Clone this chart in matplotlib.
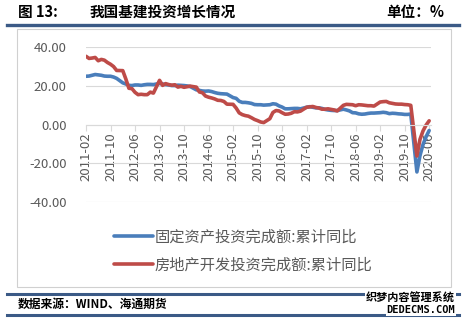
import matplotlib.pyplot as plt
import numpy as np
from matplotlib.lines import Line2D

plt.rcParams['font.family'] = ['Noto Sans CJK SC', 'DejaVu Sans']

# =============================================================================
# data (cumulative YoY, %), monthly, January not published
# =============================================================================
years = list(range(2011, 2021))
fai = {
    2011: [24.9, 25.0, 25.4, 25.8, 25.6, 25.4, 25.0, 24.9, 24.9, 24.5, 23.8],
    2012: [21.5, 20.9, 20.2, 20.1, 20.4, 20.4, 20.2, 20.5, 20.7, 20.7, 20.6],
    2013: [21.2, 20.9, 20.6, 20.4, 20.1, 20.1, 20.3, 20.2, 20.1, 19.9, 19.6],
    2014: [17.9, 17.6, 17.3, 17.2, 17.3, 17.0, 16.5, 16.1, 15.9, 15.8, 15.7],
    2015: [13.9, 13.5, 12.0, 11.4, 11.4, 11.2, 10.9, 10.3, 10.2, 10.2, 10.0],
    2016: [10.2, 10.7, 10.5, 9.6, 9.0, 8.1, 8.1, 8.2, 8.3, 8.3, 8.1],
    2017: [8.9, 9.2, 8.9, 8.6, 8.6, 8.3, 7.8, 7.5, 7.3, 7.2, 7.2],
    2018: [7.9, 7.5, 7.0, 6.1, 6.0, 5.5, 5.3, 5.4, 5.7, 5.9, 5.9],
    2019: [6.1, 6.3, 6.1, 5.6, 5.8, 5.7, 5.5, 5.4, 5.2, 5.2, 5.4],
    2020: [-24.5, -16.1, -10.3, -6.3, -3.1],
}
realestate = {
    2011: [35.2, 34.1, 34.3, 34.6, 32.9, 33.6, 33.2, 32.0, 31.1, 29.9, 27.9],
    2012: [27.8, 23.5, 18.7, 18.5, 16.6, 15.4, 15.6, 15.4, 15.4, 16.7, 16.2],
    2013: [22.8, 20.2, 21.1, 20.6, 20.3, 20.5, 19.3, 19.7, 19.2, 19.5, 19.8],
    2014: [19.3, 16.8, 16.4, 14.7, 14.1, 13.7, 13.2, 12.5, 12.4, 11.9, 10.5],
    2015: [10.4, 8.5, 6.0, 5.1, 4.6, 4.3, 3.5, 2.6, 2.0, 1.3, 1.0],
    2016: [3.0, 6.2, 7.2, 7.0, 6.1, 5.3, 5.4, 5.8, 6.6, 6.5, 6.9],
    2017: [8.9, 9.1, 9.3, 8.8, 8.5, 7.9, 7.9, 8.1, 7.8, 7.5, 7.0],
    2018: [9.9, 10.4, 10.3, 10.2, 9.7, 10.2, 10.1, 9.9, 9.7, 9.7, 9.5],
    2019: [11.6, 11.8, 11.9, 11.2, 10.9, 10.6, 10.5, 10.5, 10.3, 10.2, 9.9],
    2020: [-16.3, -7.7, -3.3, -0.3, 1.9],
}
label_fai = '固定资产投资完成额:累计同比'
label_re = '房地产开发投资完成额:累计同比'
yticks = [-40, -20, 0, 20, 40]

# month index from 2011-02
x_pos = []
fai_vals = []
re_vals = []
for y in years:
    for k, v in enumerate(fai[y]):
        x_pos.append((y - 2011) * 12 + k)  # feb=0 offset
        fai_vals.append(v)
        re_vals.append(realestate[y][k])
x_pos = np.array(x_pos)

tick_pos = np.arange(0, 113, 8)
tick_labels = []
for p in tick_pos:
    m = p + 1  # months after 2011-01
    tick_labels.append('%d-%02d' % (2011 + m // 12, m % 12 + 1))

# =============================================================================
# figure
# =============================================================================
fig = plt.figure(figsize=(4.64, 3.23), dpi=100)
fig.set_facecolor('w')

navy = '#3B5A86'
fig.add_artist(Line2D([7/464, 459/464], [1-25/323]*2, color=navy, lw=2.4))
fig.add_artist(Line2D([7/464, 459/464], [1-294/323]*2, color=navy, lw=2.2))
fig.add_artist(Line2D([7/464, 459/464], [1-315/323]*2, color=navy, lw=2.2))
# chart frame
fig.add_artist(plt.Rectangle((17/464, 1-287/323), 434/464, 258/323,
                             fill=False, ec='#D0D0D0', lw=0.8))

fig.text(18/464, 1-12/323, '图 13:', fontsize=10.5, fontweight='bold', va='center')
fig.text(90/464, 1-12/323, '我国基建投资增长情况', fontsize=10.5, fontweight='bold', va='center')
fig.text(444/464, 1-12/323, '单位：%', fontsize=10.5, fontweight='bold', va='center', ha='right')
fig.text(18/464, 1-304/323, '数据来源：WIND、海通期货', fontsize=8.5, fontweight='bold', va='center')
fig.text(455/464, 1-298/323, '织梦内容管理系统', fontsize=8, fontweight='bold', va='center', ha='right',
         bbox=dict(fc='w', ec='none', pad=0.5))
fig.text(455/464, 1-310/323, 'DEDECMS.COM', fontsize=7.5, fontweight='bold', va='center', ha='right',
         family='DejaVu Sans Mono', bbox=dict(fc='w', ec='none', pad=0.5))

ax = fig.add_axes([86/464, 1-202/323, 345/464, 155/323])
ax.plot(x_pos, fai_vals, color='#4A7EBB', lw=2.6, label=label_fai, solid_capstyle='round')
ax.plot(x_pos, re_vals, color='#BE4B48', lw=2.6, label=label_re, solid_capstyle='round')

for s in ax.spines.values():
    s.set_visible(False)
# x axis sits at zero
ax.spines['bottom'].set_visible(True)
ax.spines['bottom'].set_position(('data', 0))
ax.spines['bottom'].set_color('#D9D9D9')
ax.spines['bottom'].set_linewidth(0.8)

ax.set_ylim(-40, 40)
ax.set_xlim(0, 112.6)
ax.set_yticks(yticks)
ax.set_yticklabels(['%.2f' % v for v in yticks])
ax.yaxis.grid(True, color='#D9D9D9', lw=0.8)
ax.set_axisbelow(True)
ax.tick_params(axis='y', length=0, labelsize=9.5, labelcolor='#595959', pad=14)

ax.set_xticks(tick_pos)
ax.set_xticklabels(tick_labels, rotation=90)
ax.tick_params(axis='x', length=4, color='#D9D9D9', labelsize=9.5, labelcolor='#595959', pad=2)

fig.legend(loc='center left', bbox_to_anchor=(100/464, 1-251/323), frameon=False,
           fontsize=11, labelcolor='#595959', handlelength=2.6, handletextpad=0.1,
           labelspacing=0.75)

plt.savefig('out.png', dpi=100)
